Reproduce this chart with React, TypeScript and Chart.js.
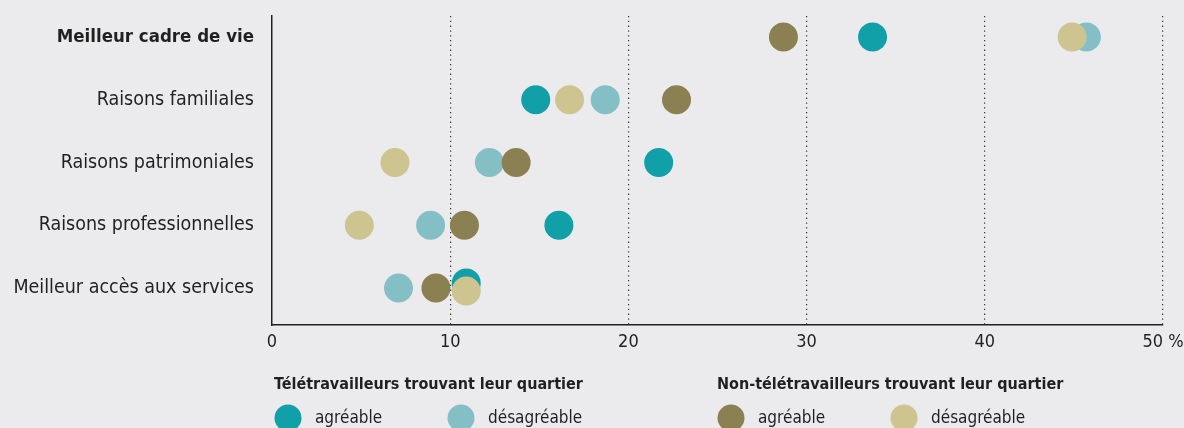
import React, { useEffect, useRef } from "react";
import { Chart, registerables } from "chart.js";

Chart.register(...registerables);

const categories = [
  "Meilleur cadre de vie",
  "Raisons familiales",
  "Raisons patrimoniales",
  "Raisons professionnelles",
  "Meilleur accès aux services",
];
const teleAgreable = [33.7, 14.8, 21.7, 16.1, 10.9];
const teleDesagreable = [45.7, 18.7, 12.2, 8.9, 7.1];
const nonTeleAgreable = [28.7, 22.7, 13.7, 10.8, 9.2];
const nonTeleDesagreable = [44.9, 16.7, 6.9, 4.9, 10.9];
// small vertical nudge where two dots coincide (last row)
const teleAgreableNudge = [0, 0, 0, 0, -0.08];
const nonTeleDesagreableNudge = [0, 0, 0, 0, 0.05];

const xTicks = [0, 10, 20, 30, 40, 50];
const legendGroups = [
  { title: "Télétravailleurs trouvant leur quartier", items: ["agréable", "désagréable"] },
  { title: "Non-télétravailleurs trouvant leur quartier", items: ["agréable", "désagréable"] },
];

const COLORS = {
  teleAgr: "#11a0a8",
  teleDes: "#85bfc6",
  nonAgr: "#8b8052",
  nonDes: "#cdc48f",
};
const FONT = "'DejaVu Sans Condensed', 'Liberation Sans Narrow', 'DejaVu Sans', sans-serif";
const TEXT = "#231f20";

const toPoints = (vals: number[], nudge?: number[]) =>
  vals.map((v, i) => ({ x: v, y: i + (nudge ? nudge[i] : 0) }));

export default function App() {
  const ref = useRef<HTMLCanvasElement>(null);
  useEffect(() => {
    if (!ref.current) return;
    const legendPlugin = {
      id: "customLegend",
      afterDraw(chart: any) {
        const ctx = chart.ctx;
        ctx.save();
        const groupX = [274, 717];
        const colorSets = [
          [COLORS.teleAgr, COLORS.teleDes],
          [COLORS.nonAgr, COLORS.nonDes],
        ];
        legendGroups.forEach((g, gi) => {
          const x0 = groupX[gi];
          ctx.fillStyle = TEXT;
          ctx.font = `bold 16px ${FONT}`;
          ctx.textAlign = "left";
          ctx.textBaseline = "middle";
          ctx.fillText(g.title, x0, 385);
          g.items.forEach((it, ii) => {
            const cx = x0 + 14 + ii * 173;
            ctx.beginPath();
            ctx.fillStyle = colorSets[gi][ii];
            ctx.arc(cx, 418, 13.5, 0, Math.PI * 2);
            ctx.fill();
            ctx.fillStyle = TEXT;
            ctx.font = `17px ${FONT}`;
            ctx.fillText(it, cx + 27, 419);
          });
        });
        ctx.restore();
      },
    };

    const chart = new Chart(ref.current, {
      type: "scatter",
      data: {
        datasets: [
          { label: "nonDes", data: toPoints(nonTeleDesagreable, nonTeleDesagreableNudge), backgroundColor: COLORS.nonDes, order: 0 },
          { label: "nonAgr", data: toPoints(nonTeleAgreable), backgroundColor: COLORS.nonAgr, order: 1 },
          { label: "teleDes", data: toPoints(teleDesagreable), backgroundColor: COLORS.teleDes, order: 2 },
          { label: "teleAgr", data: toPoints(teleAgreable, teleAgreableNudge), backgroundColor: COLORS.teleAgr, order: 3 },
        ].map((d) => ({ ...d, pointRadius: 14.5, pointHoverRadius: 14.5, borderWidth: 0, pointBorderWidth: 0 })),
      },
      options: {
        animation: false,
        responsive: false,
        layout: { padding: { top: 16, right: 21, left: 0, bottom: 0 } },
        plugins: { legend: { display: false }, tooltip: { enabled: false } },
        events: [],
        clip: false,
        scales: {
          x: {
            type: "linear",
            min: 0,
            max: 50,
            afterBuildTicks: (s: any) => {
              s.ticks = xTicks.map((v) => ({ value: v }));
            },
            afterFit: (s: any) => {
              s.height = 103;
              s.paddingLeft = 0;
              s.paddingRight = 0;
            },
            ticks: {
              padding: 7,
              color: TEXT,
              font: { family: FONT, size: 18 },
              maxRotation: 0,
              callback: (v: any) => (v === 50 ? "50 %" : String(v)),
            },
            grid: {
              drawTicks: false,
              color: (c: any) => (c.tick && c.tick.value === 0 ? "rgba(0,0,0,0)" : "#333"),
              lineWidth: 1.2,
            },
            border: { display: true, color: TEXT, width: 1.5, dash: [1.3, 3.5] as any },
          },
          y: {
            type: "linear",
            reverse: true,
            min: -0.335,
            max: 4.59,
            afterBuildTicks: (s: any) => {
              s.ticks = categories.map((_, i) => ({ value: i }));
            },
            afterFit: (s: any) => {
              s.width = 272;
              s.paddingTop = 0;
              s.paddingBottom = 0;
            },
            ticks: {
              padding: 18,
              color: TEXT,
              font: (c: any) =>
                c.index === 0
                  ? { family: FONT, size: 18.5, weight: "bold" }
                  : { family: FONT, size: 19.5, weight: "normal" },
              callback: (v: any) => categories[v as number],
            },
            grid: { display: false, drawTicks: false },
            border: { display: true, color: TEXT, width: 1.5 },
          },
        },
      },
      plugins: [legendPlugin],
    } as any);
    return () => chart.destroy();
  }, []);

  return (
    <div style={{ position: "absolute", left: 0, top: 0, width: 1184, height: 428, background: "#ebebed" }}>
      <canvas ref={ref} width={1184} height={428} style={{ display: "block" }} />
    </div>
  );
}
